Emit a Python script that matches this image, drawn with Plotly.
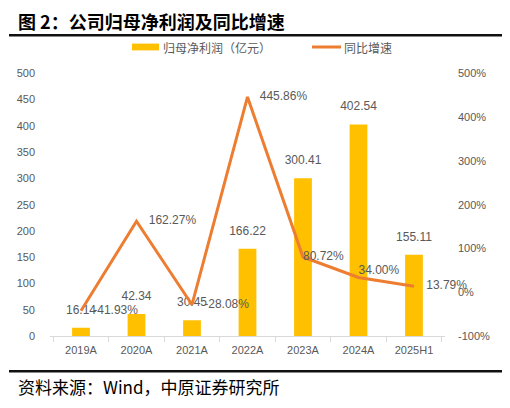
import plotly.graph_objects as go

categories = ["2019A", "2020A", "2021A", "2022A", "2023A", "2024A", "2025H1"]
profit = [16.14, 42.34, 30.45, 166.22, 300.41, 402.54, 155.11]
growth = [-41.93, 162.27, -28.08, 445.86, 80.72, 34.00, 13.79]
profit_labels = ["16.14", "42.34", "30.45", "166.22", "300.41", "402.54", "155.11"]
growth_labels = ["-41.93%", "162.27%", "-28.08%", "445.86%", "80.72%", "34.00%", "13.79%"]
left_ticks = [0, 50, 100, 150, 200, 250, 300, 350, 400, 450, 500]
right_ticks = [-100, 0, 100, 200, 300, 400, 500]
right_tick_text = ["-100%", "0%", "100%", "200%", "300%", "400%", "500%"]

W, H = 510, 408
OFF = 8  # page body margin offset
BAR_COLOR = "#FFC000"
LINE_COLOR = "#ED7D31"
TXT = "#595959"
NUMFONT = "Liberation Sans, Arial, sans-serif"
CJK = "Noto Sans CJK SC, sans-serif"

def px(x):
    return max(0.0, (x - OFF) / W)

def py(y):
    return 1 - (y - OFF) / H

growth_pos = ["middle right", "middle right", "middle right", "middle right",
              "middle right", "top right", "middle right"]
growth_marker = [18, 18, 18, 18, 0, 0, 18]

fig = go.Figure()
fig.add_trace(go.Bar(
    x=categories, y=profit, name="归母净利润（亿元）",
    marker=dict(color=BAR_COLOR, line=dict(width=0)),
    width=0.32, hoverinfo="skip",
    showlegend=False,
))
fig.add_trace(go.Scatter(
    x=categories, y=profit, mode="markers+text",
    marker=dict(size=16, opacity=0, color=BAR_COLOR),
    text=profit_labels, textposition="top center", cliponaxis=False,
    textfont=dict(family=NUMFONT, size=12, color=TXT),
    showlegend=False, hoverinfo="skip",
))
fig.add_trace(go.Scatter(
    x=categories, y=growth, name="同比增速", yaxis="y2",
    mode="lines+markers+text", line=dict(color=LINE_COLOR, width=3),
    marker=dict(size=growth_marker, opacity=0, color=LINE_COLOR),
    text=growth_labels, textposition=growth_pos, cliponaxis=False,
    textfont=dict(family=NUMFONT, size=12, color=TXT),
    showlegend=False,
))

fig.update_layout(
    width=W, height=H,
    margin=dict(l=0, r=0, t=0, b=0),
    paper_bgcolor="white", plot_bgcolor="white",
    xaxis=dict(
        domain=[px(50), px(445)],
        showline=True, linecolor="#D9D9D9", linewidth=1,
        ticks="outside", tickson="boundaries", ticklen=5, tickcolor="#D9D9D9",
        tickfont=dict(family=NUMFONT, size=11, color=TXT),
        ticklabelstandoff=4,
        showgrid=False, zeroline=False,
        anchor="y",
    ),
    yaxis=dict(
        domain=[py(340), py(69)],
        range=[0, 500], tickvals=left_ticks,
        showgrid=False, zeroline=False, showline=False,
        tickfont=dict(family=NUMFONT, size=11, color=TXT),
        ticklabelstandoff=14,
    ),
    yaxis2=dict(
        overlaying="y", side="right", anchor="x",
        range=[-100, 500], tickvals=right_ticks, ticktext=right_tick_text,
        showgrid=False, zeroline=False, showline=False,
        tickfont=dict(family=NUMFONT, size=11, color=TXT),
        ticklabelstandoff=12,
    ),
)

# title
fig.add_annotation(text="<b>图 2：公司归母净利润及同比增速</b>", x=px(16), y=py(15),
                   xref="paper", yref="paper", xanchor="left", yanchor="middle",
                   showarrow=False, font=dict(family=CJK, size=18, color="black"))
fig.add_shape(type="line", xref="paper", yref="paper", x0=px(9), x1=px(504),
              y0=py(30), y1=py(30), line=dict(color="#111111", width=2.5))
# legend
fig.add_shape(type="rect", xref="paper", yref="paper", x0=px(132), x1=px(159), y0=py(38.5), y1=py(45.5),
              line=dict(width=0), fillcolor=BAR_COLOR)
fig.add_annotation(text="归母净利润（亿元）", x=px(161), y=py(42), xref="paper", yref="paper",
                   xanchor="left", yanchor="middle", showarrow=False,
                   font=dict(family=CJK, size=12, color=TXT))
fig.add_shape(type="line", xref="paper", yref="paper", x0=px(312), x1=px(341), y0=py(42), y1=py(42),
              line=dict(color=LINE_COLOR, width=3))
fig.add_annotation(text="同比增速", x=px(342), y=py(42), xref="paper", yref="paper",
                   xanchor="left", yanchor="middle", showarrow=False,
                   font=dict(family=CJK, size=12, color=TXT))
# bottom
fig.add_shape(type="line", xref="paper", yref="paper", x0=px(9), x1=px(504),
              y0=py(376), y1=py(376), line=dict(color="#111111", width=2.5))
fig.add_annotation(text="资料来源：Wind，中原证券研究所", x=px(16), y=py(392),
                   xref="paper", yref="paper", xanchor="left", yanchor="middle",
                   showarrow=False, font=dict(family=CJK, size=17, color="black"))

fig.write_html("out.html", config={"displayModeBar": False})
